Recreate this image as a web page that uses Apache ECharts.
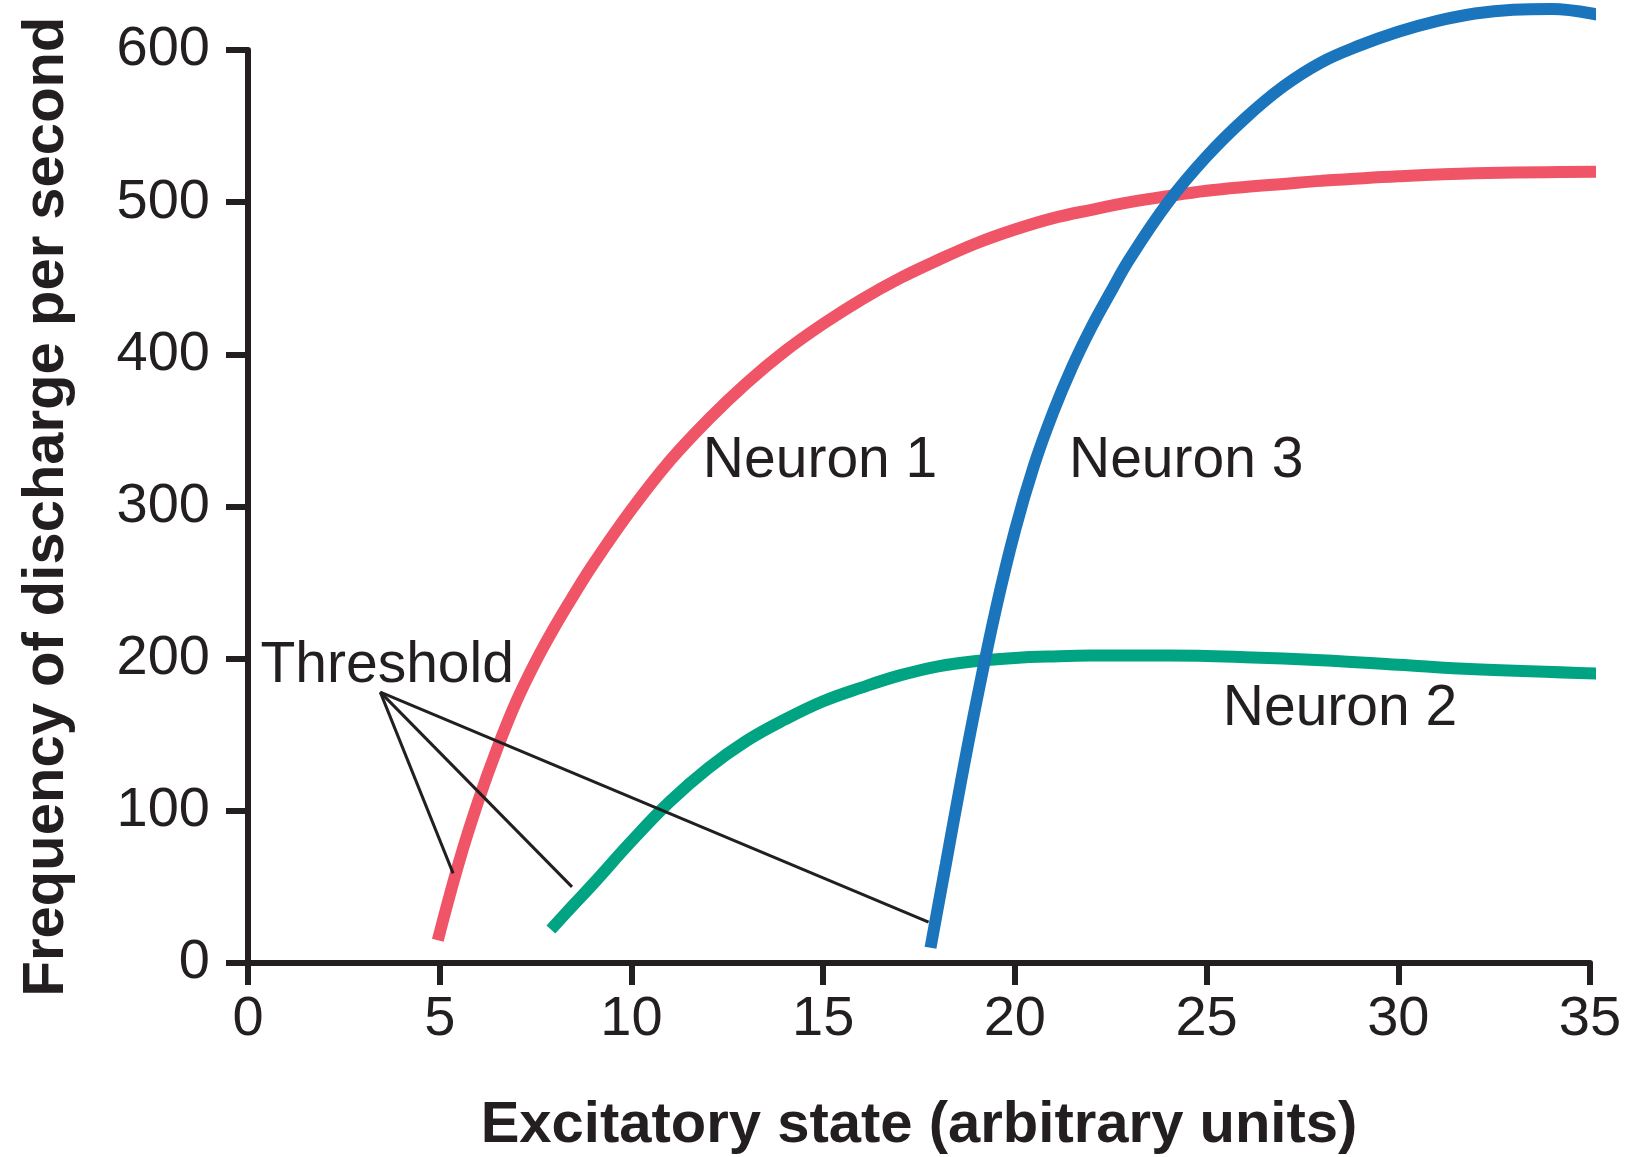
<!DOCTYPE html>
<html>
<head>
<meta charset="utf-8">
<script src="https://cdn.jsdelivr.net/npm/echarts@6/dist/echarts.min.js"></script>
<style>
html,body{margin:0;padding:0;background:#fff;}
#chart{width:1630px;height:1157px;}
</style>
</head>
<body>
<div id="chart"></div>
<script>
// Axis settings
var xMin = 0, xMax = 35, xInterval = 5;
var yMin = 0, yMax = 600, yInterval = 100;
var xTitle = 'Excitatory state (arbitrary units)';
var yTitle = 'Frequency of discharge per second';

// Neuron 1 (red)
var n1X = [4.95, 5.5, 6.0, 6.5, 7.0, 7.5, 8.0, 8.5, 9.0, 10.0, 11.0, 12.0, 13.0, 14.0, 15.0, 16.0, 17.0, 18.0, 19.0, 20.0, 21.0, 22.0, 23.0, 24.0, 25.0, 26.0, 27.0, 28.0, 30.0, 32.0, 35.3];
var n1Y = [15, 66, 106, 141, 172, 198, 221, 242, 262, 298, 330, 357, 381, 402, 420, 436, 450, 462, 473, 482, 489.5, 495, 500, 504, 507.5, 510, 512, 514, 517, 519, 520];

// Neuron 2 (green)
var n2X = [7.9, 8.5, 9.0, 10.0, 11.0, 12.0, 13.0, 14.0, 15.0, 16.0, 17.0, 18.0, 19.0, 20.0, 21.0, 22.0, 24.0, 26.0, 28.0, 30.0, 32.0, 35.55];
var n2Y = [22, 38.5, 52, 80, 106, 128, 146, 160, 172, 181, 189, 195, 198.5, 200.5, 201.5, 202, 202, 201, 199, 196, 193, 190];

// Neuron 3 (blue)
var n3X = [17.8, 18.2, 18.6, 19.0, 19.5, 20.0, 20.5, 21.0, 21.5, 22.0, 22.5, 23.0, 24.0, 25.0, 26.0, 27.0, 28.0, 29.0, 30.0, 31.0, 32.0, 33.0, 34.0, 35.6];
var n3Y = [10, 65, 120, 172, 232, 284, 327, 362, 392, 418, 441, 463, 500, 530, 555, 576, 592, 603, 612, 619, 624, 626.5, 627, 621];

// Threshold pointer lines: apex and three end points
var thrApex = [3.45, 178];
var thrEndX = [5.35, 8.45, 17.75];
var thrEndY = [58.9, 50, 26.9];

// Text labels
var labelNames = ['Neuron 1', 'Neuron 3', 'Neuron 2', 'Threshold'];
var labelX = [14.92, 24.47, 28.48, 3.63];
var labelY = [330, 330, 167, 195];

function zip(xs, ys) { return xs.map(function (x, i) { return [x, ys[i]]; }); }

var textColor = '#231F20';
var fontFam = '"Liberation Sans", Arial, Helvetica, sans-serif';

var series = [
  { name: 'Neuron 1', type: 'line', data: zip(n1X, n1Y), smooth: 0.4, showSymbol: false, symbol: 'none', clip: false,
    lineStyle: { color: '#EF5567', width: 12 } },
  { name: 'Neuron 2', type: 'line', data: zip(n2X, n2Y), smooth: 0.4, showSymbol: false, symbol: 'none', clip: false,
    lineStyle: { color: '#00A482', width: 12 } },
  { name: 'Neuron 3', type: 'line', data: zip(n3X, n3Y), smooth: 0.4, showSymbol: false, symbol: 'none', clip: false,
    lineStyle: { color: '#1B75BC', width: 12 } }
];
thrEndX.forEach(function (x, i) {
  series.push({ type: 'line', data: [thrApex, [x, thrEndY[i]]], showSymbol: false, symbol: 'none', clip: false,
    lineStyle: { color: textColor, width: 3 }, z: 3 });
});
series.push({
  type: 'scatter', symbolSize: 0, clip: false, z: 5,
  itemStyle: { opacity: 1, color: 'rgba(0,0,0,0)' },
  data: labelNames.map(function (n, i) { return { value: [labelX[i], labelY[i]], name: n }; }),
  label: { show: true, position: 'inside', formatter: '{b}', color: textColor, opacity: 1,
    fontSize: 57, fontFamily: fontFam }
});

var chart = echarts.init(document.getElementById('chart'));
chart.setOption({
  backgroundColor: '#fff',
  animation: false,
  grid: { left: 248, right: 40, top: 50, bottom: 194, outerBoundsMode: 'none' },
  xAxis: {
    type: 'value', min: xMin, max: xMax, interval: xInterval,
    name: xTitle, nameLocation: 'middle', nameGap: 134,
    nameTextStyle: { color: textColor, fontSize: 58, fontWeight: 'bold', fontFamily: fontFam },
    axisLine: { show: true, lineStyle: { color: textColor, width: 6 } },
    axisTick: { show: true, length: 22, lineStyle: { color: textColor, width: 6 } },
    axisLabel: { color: textColor, fontSize: 56, fontFamily: fontFam, margin: 29 },
    splitLine: { show: false }
  },
  yAxis: {
    type: 'value', min: yMin, max: yMax, interval: yInterval,
    name: yTitle, nameLocation: 'middle', nameGap: 172, nameRotate: 90,
    nameTextStyle: { color: textColor, fontSize: 58, fontWeight: 'bold', fontFamily: fontFam },
    axisLine: { show: true, lineStyle: { color: textColor, width: 6 } },
    axisTick: { show: true, length: 22, lineStyle: { color: textColor, width: 6 } },
    axisLabel: { color: textColor, fontSize: 56, fontFamily: fontFam, margin: 38 },
    splitLine: { show: false }
  },
  series: series
});
</script>
</body>
</html>
